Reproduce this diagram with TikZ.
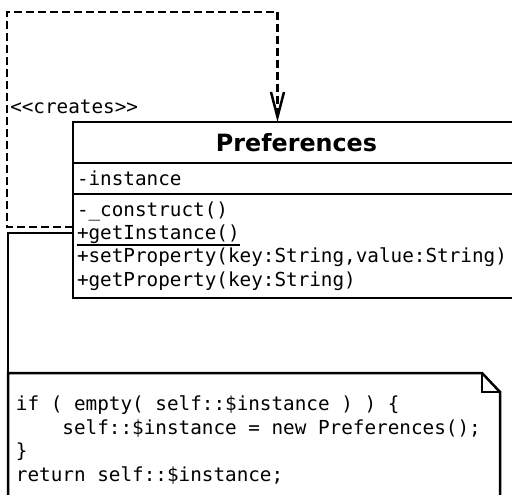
\documentclass[tikz,border=0pt]{standalone}
\usepackage{fontspec}
\setsansfont{DejaVu Sans}
\setmonofont{DejaVu Sans Mono}
\usetikzlibrary{positioning,arrows.meta}

\newcommand{\umlfont}{\ttfamily\fontsize{19.3}{23.4}\selectfont}
\newcommand{\staticop}[1]{\leavevmode\setbox0\hbox{#1}\rlap{\vrule height -4.5pt depth 6.5pt width \wd0}\box0}

\tikzset{
  classpart/.style={draw, outer sep=0pt, anchor=north west, inner xsep=4pt, text width=439pt, align=flush left, font=\umlfont},
  notebox/.style={anchor=north west, outer sep=0pt, inner xsep=8pt, text width=476pt, minimum height=134pt, align=flush left, font=\umlfont},
  creates/.style={dash pattern=on 8pt off 4pt, -{Straight Barb[length=25pt,width=13pt]}}
}

\begin{document}
\begin{tikzpicture}[x=1pt, y=-1pt, line width=2.5pt]
                \useasboundingbox (0,0) rectangle (512,495);
                \node [classpart, align=center, minimum height=41pt, font=\sffamily\bfseries\fontsize{23.8}{28}\selectfont] (pref) at (73,122) {Preferences};
                \node [classpart, minimum height=31pt, below=0pt of pref.south west, anchor=north west] (prefattr) {-instance};
                \node [classpart, minimum height=104pt, below=0pt of prefattr.south west, anchor=north west] (prefops) {-\_construct()\\
                    \staticop{+getInstance()}\\
                    +setProperty(key:String,value:String)\\
                    +getProperty(key:String)};
                \node [notebox] (note) at (8,373) {if ( empty( self::\$instance ) ) \{\\
                    \phantom{0000}self::\$instance = new Preferences();\\
                    \}\\
                    return self::\$instance;};
                \node [anchor=west, inner sep=1pt, font=\umlfont] (createslabel) at (8,107) {<<creates>>};
                \coordinate (loopcorner) at (7,12);
                % dashed self dependency
                \draw [creates] ([yshift=-33pt]prefops.north west) -| (loopcorner) -| ([xshift=-19pt]pref.north);
                % note with folded corner
                \draw (note.south west) -- (note.north west) -- ([xshift=-18pt]note.north east) -- ([yshift=-19pt]note.north east) -- (note.south east) -- cycle;
                \draw ([xshift=-18pt]note.north east) |- ([yshift=-19pt]note.north east);
                \draw ([yshift=-39pt]prefops.north west) -| (note.north west);
            \end{tikzpicture}
\end{document}
